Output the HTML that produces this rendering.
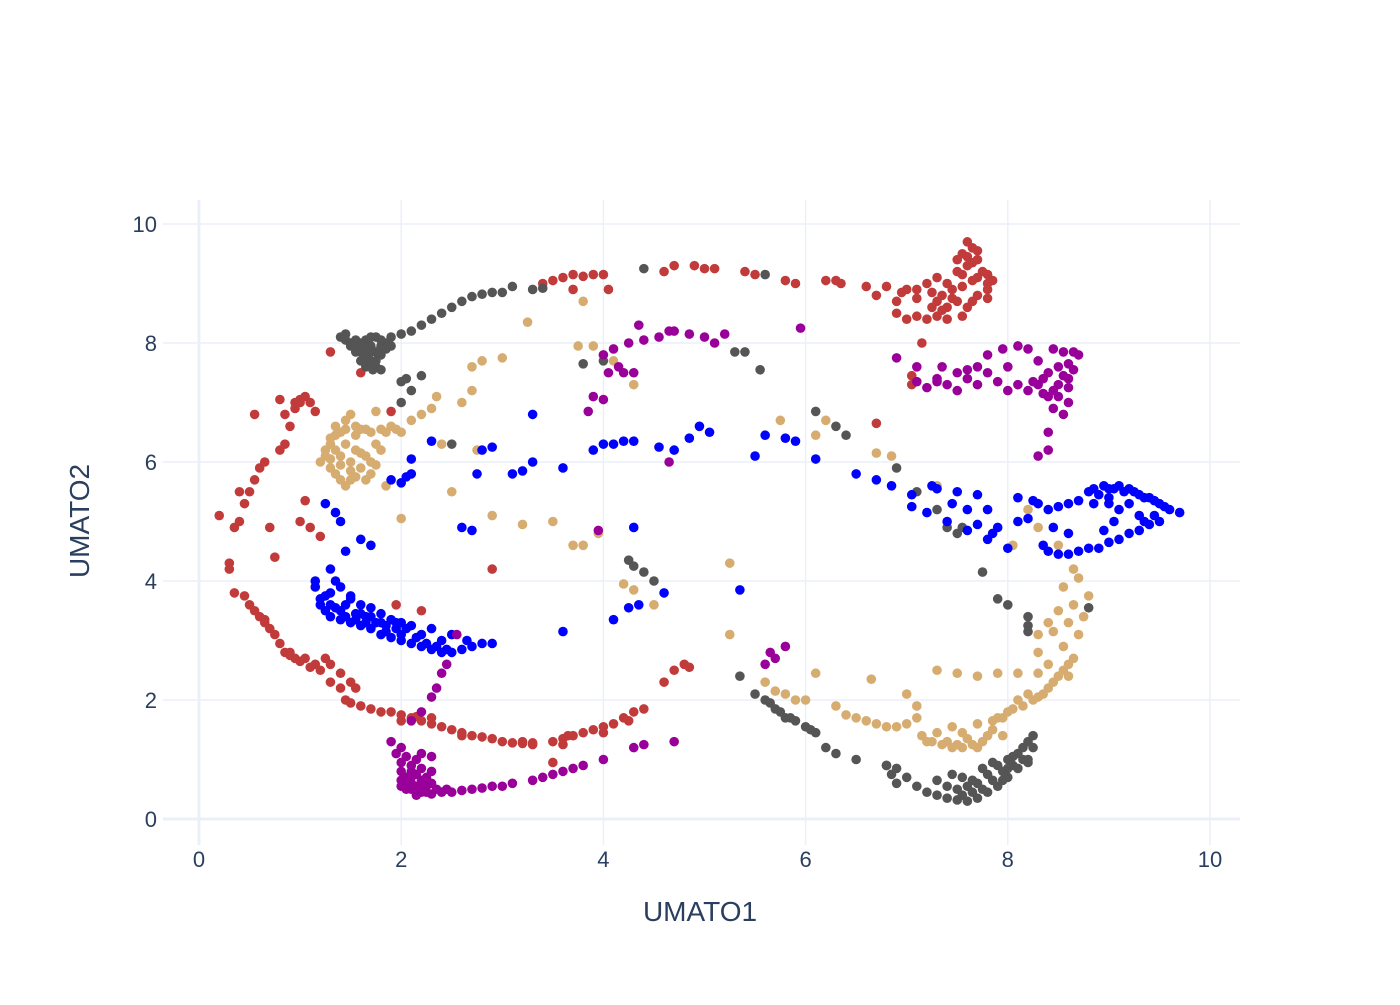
<!DOCTYPE html>
<html><head><meta charset="utf-8"><style>
body{margin:0;background:#fff;width:1400px;height:1000px;overflow:hidden}
text{font-family:"Liberation Sans",sans-serif;fill:#2a3f5f}
</style></head><body>
<svg id="chart" width="1400" height="1000" xmlns="http://www.w3.org/2000/svg">
<g id="grid"></g>
<g id="points"></g>
<g id="ticks"></g>
<text x="700" y="921" text-anchor="middle" font-size="28">UMATO1</text>
<text transform="translate(89,521) rotate(-90)" text-anchor="middle" font-size="28">UMATO2</text>
</svg>
<script>
const xTicks=[0,2,4,6,8,10];
const yTicks=[0,2,4,6,8,10];
const seriesNames=["red","gray","tan","blue","purple"];
const seriesColors=["#c23b3b","#555555","#d6ac70","#0000ff","#990099"];
const redPts=[[0.2,5.1],[0.3,4.3],[0.3,4.2],[0.35,3.8],[0.45,3.75],[0.5,3.6],[0.55,3.5],[0.6,3.4],[0.65,3.3],[0.7,3.2],[0.75,3.1],[0.8,2.95],[0.85,2.8],[0.9,2.75],[0.95,2.7],[1.0,2.65],[1.05,2.7],[1.1,2.55],[1.2,2.5],[1.25,2.7],[1.3,2.6],[1.3,2.3],[1.4,2.45],[1.4,2.2],[1.45,2.0],[1.5,1.95],[1.55,2.2],[1.6,1.9],[1.7,1.85],[1.8,1.8],[1.9,1.8],[2.0,1.75],[2.1,1.7],[2.2,1.65],[2.3,1.6],[2.4,1.55],[2.5,1.5],[2.6,1.45],[2.7,1.4],[2.8,1.38],[2.9,1.35],[3.0,1.3],[3.1,1.28],[3.2,1.27],[3.3,1.25],[3.5,1.3],[3.6,1.35],[3.7,1.4],[3.8,1.45],[3.9,1.5],[4.0,1.55],[4.1,1.6],[4.2,1.7],[4.3,1.8],[4.4,1.85],[4.6,2.3],[4.7,2.5],[4.8,2.6],[4.85,2.55],[3.6,1.25],[3.5,0.95],[0.35,4.9],[0.4,5.0],[0.45,5.3],[0.5,5.5],[0.55,5.7],[0.6,5.9],[0.65,6.0],[0.7,4.9],[0.75,4.4],[0.8,6.2],[0.85,6.3],[0.9,6.6],[0.95,6.9],[1.0,7.0],[1.05,7.1],[1.1,7.0],[1.15,6.85],[0.8,7.05],[0.85,6.8],[1.0,5.0],[1.05,5.35],[1.1,4.9],[0.55,6.8],[1.2,4.75],[0.4,5.5],[1.3,7.85],[1.9,6.85],[1.95,3.6],[2.2,3.5],[2.9,4.2],[3.4,9.0],[3.5,9.05],[3.6,9.1],[3.7,9.15],[3.8,9.12],[3.9,9.15],[4.0,9.15],[4.05,8.9],[3.7,8.9],[4.6,9.2],[4.7,9.3],[4.9,9.3],[5.0,9.25],[5.1,9.25],[5.4,9.2],[5.5,9.15],[5.8,9.05],[5.9,9.0],[6.2,9.05],[6.3,9.05],[6.35,9.0],[6.6,8.95],[6.7,8.8],[6.9,8.5],[7.0,8.4],[7.2,8.4],[7.4,8.4],[7.1,8.9],[7.2,9.0],[7.3,9.1],[7.4,9.0],[7.5,9.2],[7.55,9.5],[7.6,9.7],[7.65,9.6],[7.7,9.4],[7.75,9.2],[7.8,9.0],[7.7,8.8],[7.5,8.7],[7.4,8.6],[7.3,8.7],[7.6,8.6],[7.8,8.9],[7.6,9.3],[7.5,9.4],[7.8,9.15],[6.7,6.65],[7.05,7.3],[7.05,7.45],[7.15,8.0],[6.9,8.7],[6.8,8.95],[2.0,1.65],[2.15,1.72],[2.3,1.7],[4.25,1.65],[3.65,1.4],[4.0,1.45],[1.6,7.5],
[7.0,8.9],[7.1,8.75],[7.25,8.85],[7.35,8.8],[7.45,8.9],[7.55,8.95],[7.65,9.05],[7.7,9.1],[7.6,9.45],[7.65,9.35],[7.7,9.55],[7.55,9.15],[7.45,8.75],[7.35,8.55],[7.85,9.05],[7.8,8.75],[7.1,8.45],[7.3,8.45],[6.95,8.85],[7.25,8.6],[7.65,8.7],[7.55,8.45],[0.65,3.35],[0.9,2.8],[1.15,2.6],[1.5,2.3],[2.6,1.4],[3.2,1.3],[3.3,1.28],[1.0,7.05],[0.95,7.0]];
const grayPts=[[1.4,8.1],[1.45,8.15],[1.5,8.0],[1.55,7.9],[1.6,7.85],[1.65,8.05],[1.7,7.7],[1.75,7.6],[1.8,7.8],[1.85,8.0],[1.9,8.1],[2.0,8.15],[2.1,8.2],[2.2,8.3],[2.3,8.4],[2.4,8.5],[2.5,8.6],[2.6,8.7],[2.7,8.78],[2.8,8.82],[2.9,8.85],[3.0,8.85],[3.1,8.95],[3.3,8.9],[3.4,8.92],[1.7,7.95],[1.75,8.1],[1.6,8.0],[1.8,7.55],[2.0,7.35],[2.05,7.4],[2.1,7.2],[2.2,7.45],[2.0,7.0],[2.5,6.3],[4.4,9.25],[5.6,9.15],[5.4,7.85],[5.3,7.85],[5.55,7.55],[3.8,7.65],[4.0,7.7],[6.1,6.85],[6.3,6.6],[6.4,6.45],[6.9,5.9],[7.1,5.5],[7.3,5.2],[7.4,4.9],[7.5,4.8],[7.55,4.9],[7.75,4.15],[7.9,3.7],[8.0,3.6],[8.2,3.4],[8.2,3.25],[8.2,3.15],[8.8,3.55],[4.25,4.35],[4.3,4.25],[4.4,4.15],[4.5,4.0],[5.35,2.4],[5.5,2.1],[5.6,2.0],[5.7,1.85],[5.8,1.7],[5.9,1.65],[6.0,1.55],[6.1,1.45],[6.2,1.2],[6.3,1.1],[6.5,1.0],[6.8,0.9],[6.85,0.75],[6.9,0.6],[7.0,0.7],[7.1,0.55],[7.2,0.45],[7.3,0.4],[7.4,0.35],[7.5,0.32],[7.6,0.3],[7.7,0.35],[7.8,0.45],[7.9,0.55],[8.0,0.7],[8.1,0.85],[8.2,1.0],[8.25,1.2],[8.25,1.4],[8.2,0.95],[7.7,0.6],[7.8,0.75],[7.9,0.9],[8.0,1.0],[7.6,0.55],[7.3,0.65],[7.45,0.75],[6.8,0.9],[6.9,0.85],[7.5,0.5],[7.95,0.65],[8.05,0.9],[8.1,1.1],[1.65,7.75],[1.55,8.05],[1.75,7.85],
[1.45,8.05],[1.5,7.95],[1.55,7.85],[1.6,7.7],[1.65,7.9],[1.7,7.85],[1.75,7.7],[1.8,7.95],[1.85,7.9],[1.7,8.1],[1.8,8.05],[1.6,7.95],[1.65,7.6],[1.72,7.55],[1.9,7.95],[7.65,0.45],[7.75,0.5],[7.85,0.65],[7.95,0.8],[8.05,1.05],[8.15,1.2],[8.2,1.3],[7.55,0.4],[7.65,0.65],[7.75,0.85],[7.85,0.95],[7.4,0.55],[7.55,0.7],[8.0,0.85],[8.15,1.0],[5.65,1.95],[5.75,1.8],[5.85,1.7],[6.05,1.5]];
const tanPts=[[1.2,6.0],[1.25,6.2],[1.3,6.4],[1.35,6.6],[1.4,6.5],[1.45,6.7],[1.5,6.8],[1.3,5.9],[1.35,5.8],[1.4,5.7],[1.45,5.6],[1.5,6.0],[1.55,6.2],[1.6,6.55],[1.65,6.1],[1.7,6.5],[1.75,6.85],[1.8,6.55],[1.85,5.6],[1.9,6.6],[2.0,6.5],[2.1,6.7],[2.2,6.8],[1.25,6.1],[1.6,5.9],[1.7,5.8],[1.4,6.1],[2.0,5.05],[2.3,6.9],[2.35,7.1],[2.4,6.3],[2.5,5.5],[2.6,7.0],[2.7,7.2],[2.7,7.6],[2.8,7.7],[3.0,7.75],[3.25,8.35],[2.75,6.2],[2.9,5.1],[3.2,4.95],[3.5,5.0],[3.7,4.6],[3.8,4.6],[3.95,4.8],[3.75,7.95],[3.8,8.7],[3.9,7.95],[4.0,7.8],[4.1,7.7],[4.3,7.3],[4.2,3.95],[4.3,3.85],[4.5,3.6],[5.25,4.3],[5.25,3.1],[5.6,2.3],[5.7,2.15],[5.8,2.1],[5.9,2.0],[6.0,2.0],[6.1,2.45],[6.3,1.9],[6.4,1.75],[6.5,1.7],[6.6,1.65],[6.7,1.6],[6.8,1.55],[6.9,1.55],[7.0,1.6],[7.1,1.7],[7.15,1.4],[7.25,1.3],[7.35,1.25],[7.45,1.2],[7.55,1.2],[7.65,1.25],[7.75,1.3],[7.85,1.5],[7.95,1.7],[8.05,1.85],[8.15,1.9],[8.25,2.0],[8.35,2.1],[8.45,2.3],[8.55,2.5],[8.65,2.7],[8.7,3.1],[8.75,3.4],[8.8,3.75],[8.65,4.2],[8.7,4.05],[8.55,3.9],[8.5,3.5],[8.4,3.3],[8.3,3.1],[8.3,2.8],[8.4,2.6],[8.5,2.4],[7.3,2.5],[7.5,2.45],[7.7,2.4],[7.9,2.45],[8.1,2.45],[7.2,1.3],[7.45,1.55],[7.7,1.6],[7.9,1.7],[7.6,1.35],[7.95,1.4],[8.3,2.05],[8.6,2.4],[6.2,6.7],[6.1,6.45],[6.7,6.15],[6.85,6.1],[5.75,6.7],[7.3,5.6],[8.5,4.6],[8.05,4.6],[8.2,5.2],[8.3,4.9],[6.65,2.35],[8.3,2.45],[1.3,6.3],[1.55,5.75],[1.75,6.3],
[1.3,6.05],[1.35,6.2],[1.4,5.95],[1.45,6.3],[1.5,5.85],[1.55,6.45],[1.6,6.15],[1.65,5.7],[1.7,6.0],[1.75,5.95],[1.8,6.2],[1.45,6.55],[1.55,6.6],[1.65,6.55],[1.85,6.5],[1.95,6.55],[1.35,6.45],[1.5,5.7],[7.4,1.3],[7.5,1.25],[7.7,1.2],[7.8,1.4],[7.3,1.45],[7.55,1.45],[7.85,1.65],[8.0,1.8],[8.1,2.0],[8.2,2.1],[8.4,2.2],[8.6,2.6],[8.55,2.9],[8.45,3.15],[8.6,3.3],[8.65,3.6],[7.0,2.1],[7.1,1.9]];
const bluePts=[[1.15,4.0],[1.15,3.9],[1.2,3.7],[1.25,3.5],[1.3,3.4],[1.4,3.35],[1.5,3.3],[1.6,3.25],[1.7,3.2],[1.8,3.1],[1.9,3.05],[2.0,3.0],[2.1,2.95],[2.2,2.9],[2.3,2.85],[2.4,2.8],[2.5,2.8],[2.6,2.85],[2.7,2.9],[2.8,2.95],[2.9,2.95],[1.3,3.8],[1.4,3.9],[1.5,3.75],[1.6,3.6],[1.7,3.55],[1.8,3.45],[1.9,3.35],[2.0,3.3],[2.1,3.25],[1.35,3.55],[1.55,3.45],[1.75,3.3],[1.95,3.2],[2.3,3.2],[2.4,3.0],[2.5,3.1],[1.35,4.0],[1.6,4.7],[1.7,4.6],[1.4,5.0],[1.35,5.15],[1.25,5.3],[1.3,4.2],[1.45,4.5],[1.5,3.7],[2.65,3.0],[1.9,5.7],[2.05,5.75],[2.1,5.8],[2.1,6.05],[2.3,6.35],[2.6,4.9],[2.7,4.85],[2.75,5.8],[2.8,6.2],[2.9,6.25],[3.1,5.8],[3.2,5.85],[3.3,6.0],[3.3,6.8],[3.6,5.9],[3.9,6.2],[4.0,6.3],[4.1,6.3],[4.2,6.35],[4.3,6.35],[4.55,6.25],[4.7,6.2],[4.85,6.4],[4.95,6.6],[5.05,6.5],[5.5,6.1],[5.6,6.45],[5.8,6.4],[5.9,6.35],[6.1,6.05],[6.5,5.8],[6.7,5.7],[6.85,5.6],[7.05,5.45],[7.05,5.25],[7.2,5.15],[7.4,5.0],[7.6,4.85],[7.8,4.7],[8.0,4.55],[7.25,5.6],[7.5,5.5],[7.7,5.45],[7.8,5.2],[7.9,4.9],[8.2,5.05],[8.4,5.2],[8.6,5.3],[8.8,5.5],[9.0,5.55],[9.1,5.6],[9.2,5.55],[9.3,5.45],[9.4,5.4],[9.5,5.3],[9.6,5.2],[9.7,5.15],[9.5,5.0],[9.3,4.85],[9.1,4.7],[8.9,4.55],[8.7,4.5],[8.5,4.45],[8.35,4.6],[8.85,5.3],[8.9,5.45],[9.0,5.4],[9.2,5.3],[9.1,5.2],[8.95,4.85],[9.3,5.1],[9.4,4.95],[8.25,5.35],[8.1,5.4],[8.6,4.8],[8.45,4.9],[4.25,3.55],[4.35,3.6],[4.1,3.35],[4.6,3.8],[5.35,3.85],[3.6,3.15],[4.3,4.9],[2.0,5.65],[1.45,3.4],[1.65,3.4],[1.85,3.25],[2.2,3.1],
[1.2,3.6],[1.25,3.75],[1.4,3.5],[1.45,3.6],[1.6,3.45],[1.65,3.3],[1.8,3.3],[1.85,3.15],[2.0,3.1],[2.15,3.05],[2.25,2.95],[2.35,2.9],[2.45,2.85],[1.3,3.6],[1.55,3.35],[1.7,3.4],[1.95,3.3],[2.05,3.2],[8.85,5.55],[8.95,5.6],[9.05,5.55],[9.15,5.5],[9.25,5.5],[9.35,5.4],[9.45,5.35],[9.55,5.25],[9.45,5.1],[9.35,5.0],[9.2,4.8],[9.0,4.65],[8.8,4.55],[8.6,4.45],[8.4,4.5],[9.0,5.3],[9.05,5.0],[7.3,5.55],[7.45,5.3],[7.6,5.2],[7.7,4.95],[7.85,4.8],[8.1,5.0],[8.3,5.3],[8.5,5.25],[8.7,5.35]];
const purplePts=[[1.9,1.3],[1.95,1.1],[2.0,0.95],[2.0,0.8],[2.05,0.7],[2.05,0.6],[2.1,0.5],[2.2,0.45],[2.3,0.42],[2.4,0.45],[2.5,0.45],[2.6,0.48],[2.7,0.5],[2.8,0.52],[2.9,0.55],[3.0,0.55],[3.1,0.6],[3.3,0.65],[3.4,0.7],[3.5,0.75],[3.6,0.8],[3.7,0.85],[3.8,0.9],[4.0,1.0],[4.3,1.2],[4.4,1.25],[4.7,1.3],[2.1,0.8],[2.2,0.65],[2.15,1.0],[2.25,0.55],[2.1,0.7],[2.3,0.6],[2.0,1.2],[2.2,1.1],[2.3,1.05],[2.1,1.65],[2.2,1.8],[2.3,2.05],[2.35,2.2],[2.4,2.45],[2.45,2.6],[2.55,3.1],[3.85,6.85],[3.9,7.1],[4.0,7.05],[4.05,7.5],[4.15,7.6],[4.2,7.5],[4.3,7.5],[4.0,7.8],[4.1,7.9],[4.25,8.0],[4.4,8.05],[4.55,8.1],[4.7,8.2],[4.85,8.15],[5.0,8.1],[5.1,8.0],[5.2,8.15],[4.35,8.3],[4.65,8.2],[4.65,6.0],[3.95,4.85],[5.65,2.8],[5.6,2.6],[5.7,2.7],[5.8,2.9],[5.95,8.25],[6.9,7.75],[7.1,7.6],[7.1,7.35],[7.3,7.4],[7.5,7.5],[7.6,7.55],[7.7,7.6],[7.8,7.8],[7.95,7.9],[8.1,7.95],[8.2,7.9],[8.3,7.7],[8.4,7.5],[8.5,7.3],[8.6,7.25],[8.45,7.9],[8.55,7.85],[8.7,7.8],[8.65,7.55],[8.6,7.0],[8.55,6.8],[8.4,6.5],[8.4,6.2],[8.3,6.1],[8.2,7.2],[8.0,7.2],[8.4,7.1],[8.5,7.6],[7.9,7.35],[7.4,7.3],[7.7,7.3],[7.5,7.2],[7.3,7.35],[8.45,6.9],[2.0,0.55],[2.15,0.4],[2.05,1.05],
[2.05,0.5],[2.1,0.6],[2.15,0.55],[2.2,0.5],[2.25,0.45],[2.1,0.9],[2.15,0.75],[2.2,0.85],[2.0,0.65],[2.35,0.5],[2.45,0.5],[2.3,0.8],[2.25,0.7],[8.3,7.3],[8.35,7.4],[8.45,7.2],[8.55,7.45],[8.6,7.65],[8.65,7.85],[8.25,7.35],[8.35,7.15],[8.5,7.1],[8.6,7.4],[7.6,7.4],[7.8,7.5],[8.0,7.6],[8.1,7.3],[7.35,7.6],[7.2,7.25]];
const allSeries=[redPts,grayPts,tanPts,bluePts,purplePts];

const NS="http://www.w3.org/2000/svg";
const X0=199,XS=101.1,Y0=819,YS=59.5;
function sx(v){return X0+v*XS}
function sy(v){return Y0-v*YS}
const grid=document.getElementById('grid'),ticks=document.getElementById('ticks'),pts=document.getElementById('points');
xTicks.forEach(t=>{
  const l=document.createElementNS(NS,'line');
  
  
  l.setAttribute('x1',sx(t));l.setAttribute('x2',sx(t));l.setAttribute('y1',200);l.setAttribute('y2',845);
  l.setAttribute('stroke','#ebf0f8');l.setAttribute('stroke-width',t===0?3:1.5);
  grid.appendChild(l);
  const tx=document.createElementNS(NS,'text');
  
  
  tx.setAttribute('x',sx(t));tx.setAttribute('y',867);tx.setAttribute('text-anchor','middle');tx.setAttribute('font-size','22');
  tx.textContent=t;ticks.appendChild(tx);
});
yTicks.forEach(t=>{
  const l=document.createElementNS(NS,'line');
  
  
  l.setAttribute('x1',163);l.setAttribute('x2',1240);l.setAttribute('y1',sy(t));l.setAttribute('y2',sy(t));
  l.setAttribute('stroke','#ebf0f8');l.setAttribute('stroke-width',t===0?3:1.5);
  grid.appendChild(l);
  const tx=document.createElementNS(NS,'text');
  
  
  tx.setAttribute('x',157);tx.setAttribute('y',sy(t)+8);tx.setAttribute('text-anchor','end');tx.setAttribute('font-size','22');
  tx.textContent=t;ticks.appendChild(tx);
});
allSeries.forEach((s,i)=>{
  const g=document.createElementNS(NS,'g');
  
  
  s.forEach(p=>{
    const c=document.createElementNS(NS,'circle');
    
    
    c.setAttribute('cx',sx(p[0]));c.setAttribute('cy',sy(p[1]));c.setAttribute('r',4.8);
    c.setAttribute('fill',seriesColors[i]);
    g.appendChild(c);
  });
  pts.appendChild(g);
});
</script>
</body></html>
